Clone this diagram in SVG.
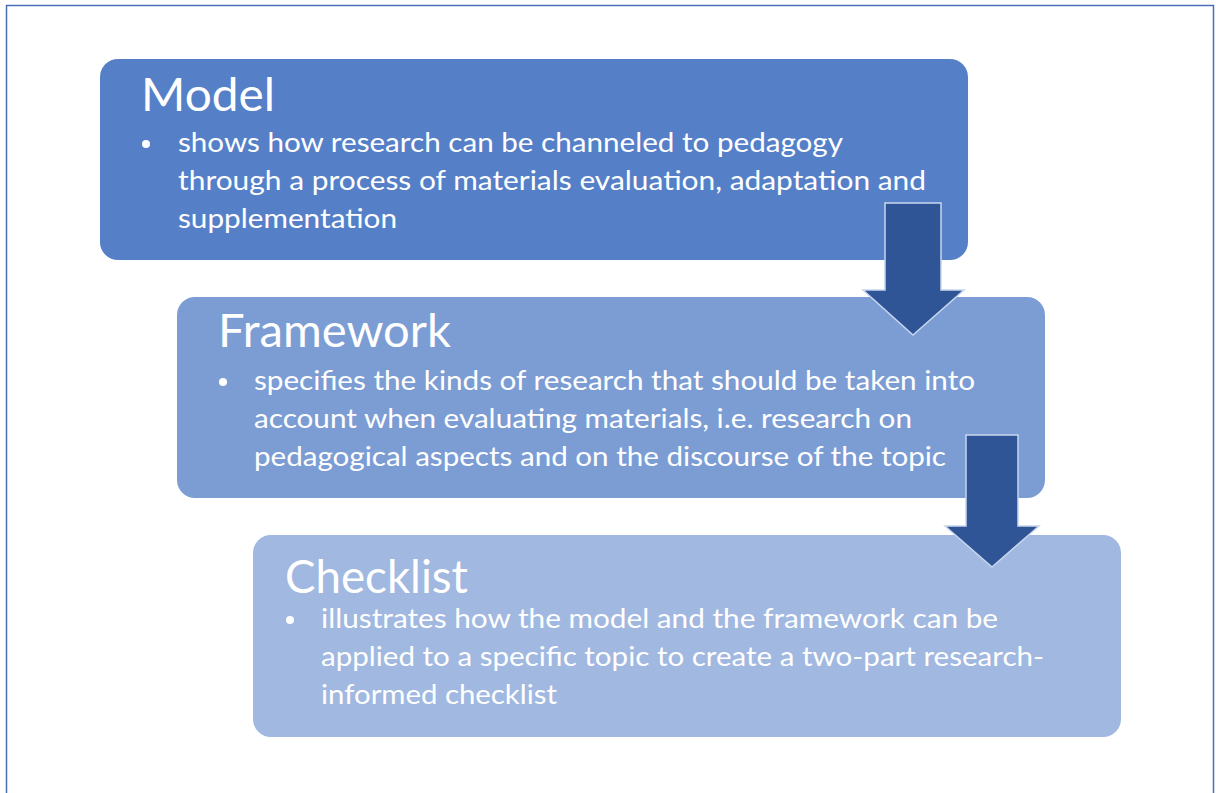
<svg xmlns="http://www.w3.org/2000/svg" width="1216" height="793" viewBox="0 0 1216 793">
  <style>
    .title { font-family: Lato, "Open Sans", "Liberation Sans", sans-serif; font-size: 46px; fill: #ffffff; }
    .body { font-family: Lato, "Open Sans", "Liberation Sans", sans-serif; font-size: 26px; fill: #ffffff; }
    .arrow { fill: #2f5597; stroke: #c9d6ee; stroke-width: 1.5; stroke-linejoin: miter; }
  </style>
  <rect x="0" y="0" width="1216" height="793" fill="#ffffff"/>
  <!-- outer frame -->
  <rect x="6.5" y="5.5" width="1207" height="800" fill="none" stroke="#4a6fb8" stroke-width="1.5"/>

  <g id="node-model">
    <rect x="100" y="59" width="868" height="201" rx="18" fill="#5580c8"/>
    <text class="title" x="141" y="111" textLength="134" lengthAdjust="spacingAndGlyphs">Model</text>
    <circle cx="146" cy="144" r="4" fill="#ffffff"/>
    <text class="body" x="178" y="152" textLength="665" lengthAdjust="spacingAndGlyphs">shows how research can be channeled to pedagogy</text>
    <text class="body" x="178" y="190" textLength="748" lengthAdjust="spacingAndGlyphs">through a process of materials evaluation, adaptation and</text>
    <text class="body" x="178" y="228" textLength="219" lengthAdjust="spacingAndGlyphs">supplementation</text>
  </g>

  <g id="node-framework">
    <rect x="177" y="297" width="868" height="201" rx="18" fill="#7b9dd4"/>
    <text class="title" x="218" y="347" textLength="233" lengthAdjust="spacingAndGlyphs">Framework</text>
    <circle cx="223" cy="382" r="4" fill="#ffffff"/>
    <text class="body" x="254" y="390" textLength="721" lengthAdjust="spacingAndGlyphs">specifies the kinds of research that should be taken into</text>
    <text class="body" x="254" y="428" textLength="658" lengthAdjust="spacingAndGlyphs">account when evaluating materials, i.e. research on</text>
    <text class="body" x="254" y="466" textLength="692" lengthAdjust="spacingAndGlyphs">pedagogical aspects and on the discourse of the topic</text>
  </g>

  <g id="node-checklist">
    <rect x="253" y="535" width="868" height="202" rx="18" fill="#a1b8e0"/>
    <text class="title" x="285" y="593" textLength="183" lengthAdjust="spacingAndGlyphs">Checklist</text>
    <circle cx="290" cy="620" r="4" fill="#ffffff"/>
    <text class="body" x="321" y="628" textLength="677" lengthAdjust="spacingAndGlyphs">illustrates how the model and the framework can be</text>
    <text class="body" x="321" y="666" textLength="723" lengthAdjust="spacingAndGlyphs">applied to a specific topic to create a two-part research-</text>
    <text class="body" x="321" y="704" textLength="236" lengthAdjust="spacingAndGlyphs">informed checklist</text>
  </g>

  <g id="connectors">
    <polygon class="arrow" points="885,203 941,203 941,290 964,290 913,335 863,290 885,290"/>
    <polygon class="arrow" points="966,435 1018,435 1018,526 1039,526 992,567 945,526 966,526"/>
  </g>
</svg>
